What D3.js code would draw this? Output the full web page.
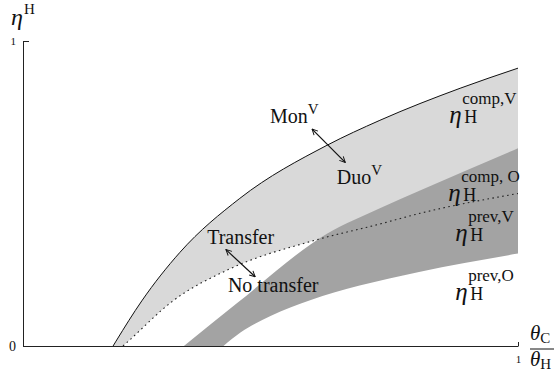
<!doctype html>
<html>
  <head>
    <script src="https://cdn.jsdelivr.net/npm/d3@7/dist/d3.min.js"></script>
    <style>
      body { margin: 0; background: #fff; }
      text { font-family: "Liberation Serif", "Times New Roman", serif; fill: #111; }
      .greek { font-family: "Liberation Serif", serif; font-style: italic; }
    </style>
  </head>
  <body>
    <div id="my_dataviz"></div>
    <script>
      // curves (x = thetaC/thetaH, y = eta)
      var monX = [0.182, 0.188, 0.240, 0.317, 0.438, 0.614, 0.721, 0.883, 1.0];
      var monY = [0, 0.016, 0.148, 0.307, 0.484, 0.658, 0.740, 0.845, 0.911];

      var transferX = [0.202, 0.213, 0.303, 0.418, 0.586, 0.721, 0.802, 1.0];
      var transferY = [0, 0.016, 0.148, 0.253, 0.345, 0.400, 0.435, 0.500];

      var compOX = [0.325, 0.432, 0.614, 0.721, 0.802, 1.0];
      var compOY = [0, 0.140, 0.368, 0.452, 0.510, 0.648];

      var prevOX = [0.405, 0.440, 0.500, 0.580, 0.680, 0.800, 1.0];
      var prevOY = [0, 0.045, 0.098, 0.150, 0.198, 0.243, 0.303];

      var xTicks = [1];
      var yTicks = [0, 1];

      // text annotations (data coords)
      var wordLabels = [
        {text: "Mon", sup: "V", x: 0.499, y: 0.730},
        {text: "Duo", sup: "V", x: 0.634, y: 0.530},
        {text: "Transfer", sup: "", x: 0.372, y: 0.336},
        {text: "No transfer", sup: "", x: 0.414, y: 0.178}
      ];
      var etaLabels = [
        {sup: "comp,V", x: 0.861, y: 0.730},
        {sup: "comp, O", x: 0.859, y: 0.474},
        {sup: "prev,V", x: 0.873, y: 0.345},
        {sup: "prev,O", x: 0.873, y: 0.150}
      ];
      var arrows = [
        {x1: 0.584, y1: 0.711, x2: 0.651, y2: 0.602},
        {x1: 0.410, y1: 0.316, x2: 0.469, y2: 0.227}
      ];

      var margin = {top: 41, right: 37, bottom: 28, left: 23},
        width = 555 - margin.left - margin.right,
        height = 374 - margin.top - margin.bottom;

      var root = d3.select("#my_dataviz")
        .append("svg")
          .attr("width", 555)
          .attr("height", 374);
      var svg = root.append("g")
          .attr("transform", "translate(" + margin.left + "," + margin.top + ")");

      var x = d3.scaleLinear().domain([0, 1]).range([0, width]);
      var y = d3.scaleLinear().domain([0, 1]).range([height, 0]);

      function pts(xs, ys) {
        return xs.map(function(d, i) { return [d, ys[i]]; });
      }
      var line = d3.line()
        .x(function(d) { return x(d[0]); })
        .y(function(d) { return y(d[1]); })
        .curve(d3.curveMonotoneX);

      // band between two curves: upper forward, lower backward
      function band(upper, lower) {
        var back = lower.slice().reverse();
        return line(upper) + line(back).replace(/^M/, "L") + "Z";
      }

      var mon = pts(monX, monY),
        transfer = pts(transferX, transferY),
        compO = pts(compOX, compOY),
        prevO = pts(prevOX, prevOY);

      svg.append("path")
        .attr("d", band(mon, transfer))
        .style("fill", "#d9d9d9");
      svg.append("path")
        .attr("d", band(compO, prevO))
        .style("fill", "#a3a3a3");

      svg.append("path")
        .attr("d", line(mon))
        .style("fill", "none")
        .style("stroke", "#111")
        .style("stroke-width", 1);
      svg.append("path")
        .attr("d", line(transfer))
        .style("fill", "none")
        .style("stroke", "#222")
        .style("stroke-width", 1.1)
        .style("stroke-dasharray", "1.6,3.4");

      // axes
      var fmt = d3.format("d");
      var xAxis = svg.append("g")
        .attr("transform", "translate(0," + height + ")")
        .call(d3.axisBottom(x).tickValues(xTicks).tickFormat(fmt)
          .tickSizeInner(-4).tickSizeOuter(0).tickPadding(9));
      var yAxis = svg.append("g")
        .call(d3.axisLeft(y).tickValues(yTicks).tickFormat(fmt)
          .tickSizeInner(-6).tickSizeOuter(0).tickPadding(7));
      [xAxis, yAxis].forEach(function(a) {
        a.attr("font-family", null).attr("font-size", null);
        a.selectAll("path, line").attr("stroke", "#222");
        a.selectAll("text").style("font-size", "11px");
      });
      yAxis.selectAll(".tick text").filter(function(d) { return d === 0; })
        .style("font-size", "14px");

      // arrows
      var defs = root.append("defs");
      defs.append("marker")
        .attr("id", "head")
        .attr("viewBox", "0 0 10 10")
        .attr("refX", 9).attr("refY", 5)
        .attr("markerWidth", 7).attr("markerHeight", 7)
        .attr("markerUnits", "userSpaceOnUse")
        .attr("orient", "auto-start-reverse")
        .append("path")
          .attr("d", "M1,1L9,5L1,9")
          .style("fill", "none")
          .style("stroke", "#111")
          .style("stroke-width", 1.4);

      svg.selectAll("myArrows")
        .data(arrows)
        .enter()
        .append("line")
          .attr("x1", function(d) { return x(d.x1); })
          .attr("y1", function(d) { return y(d.y1); })
          .attr("x2", function(d) { return x(d.x2); })
          .attr("y2", function(d) { return y(d.y2); })
          .style("stroke", "#111")
          .style("stroke-width", 1.2)
          .attr("marker-start", "url(#head)")
          .attr("marker-end", "url(#head)");

      // word labels
      var words = svg.selectAll("myWords")
        .data(wordLabels)
        .enter()
        .append("text")
          .attr("x", function(d) { return x(d.x); })
          .attr("y", function(d) { return y(d.y); })
          .style("font-size", "20px");
      words.append("tspan").text(function(d) { return d.text; });
      words.append("tspan")
        .attr("dy", -9)
        .style("font-size", "15px")
        .text(function(d) { return d.sup; });

      // eta labels
      var etas = svg.selectAll("myEtas")
        .data(etaLabels)
        .enter()
        .append("g")
          .attr("transform", function(d) { return "translate(" + x(d.x) + "," + y(d.y) + ")"; });
      etas.append("text")
        .attr("class", "greek")
        .style("font-size", "25px")
        .text("η");
      etas.append("text")
        .attr("x", 15).attr("y", 0)
        .style("font-size", "18px")
        .text("H");
      etas.append("text")
        .attr("x", 13).attr("y", -19)
        .style("font-size", "17px")
        .text(function(d) { return d.sup; });

      // y axis title
      root.append("text")
        .attr("class", "greek")
        .attr("x", 11).attr("y", 25)
        .style("font-size", "24px")
        .text("η");
      root.append("text")
        .attr("x", 24).attr("y", 14)
        .style("font-size", "15px")
        .text("H");

      // x axis title: fraction
      var fx = margin.left + width + 12, fy = margin.top + height;
      var num = root.append("text").attr("x", fx).attr("y", fy - 6);
      num.append("tspan").attr("class", "greek").style("font-size", "21px").text("θ");
      num.append("tspan").attr("dy", 3).style("font-size", "15px").text("C");
      root.append("line")
        .attr("x1", fx).attr("x2", fx + 24)
        .attr("y1", fy + 3).attr("y2", fy + 3)
        .style("stroke", "#111").style("stroke-width", 1);
      var den = root.append("text").attr("x", fx).attr("y", fy + 20);
      den.append("tspan").attr("class", "greek").style("font-size", "21px").text("θ");
      den.append("tspan").attr("dy", 3).style("font-size", "15px").text("H");
    </script>
  </body>
</html>
